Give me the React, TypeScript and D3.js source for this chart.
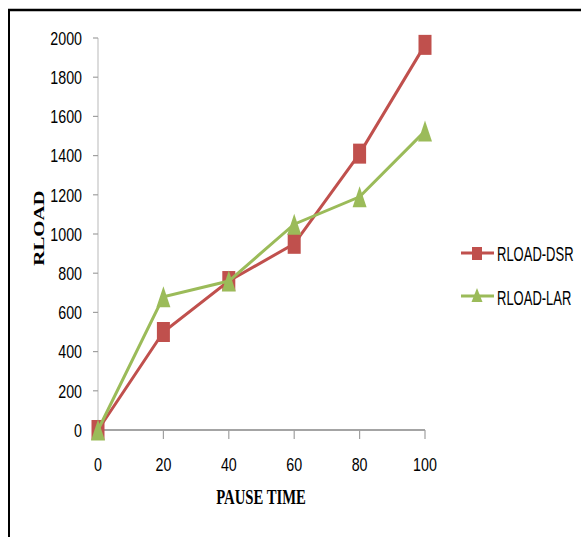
import React from "react";
import * as d3 from "d3";

const pauseTimes = [0, 20, 40, 60, 80, 100];
const rloadDSR = [0, 500, 760, 950, 1410, 1965];
const rloadLAR = [0, 680, 760, 1050, 1190, 1525];
const xTicks = [0, 20, 40, 60, 80, 100];
const yTicks = [0, 200, 400, 600, 800, 1000, 1200, 1400, 1600, 1800, 2000];
const yTickLabels = ["0", "200", "400", "600", "800", "1000", "1200", "1400", "1600", "1800", "2000"];
const seriesNames = ["RLOAD-DSR", "RLOAD-LAR"];
const xTitle = "PAUSE TIME";
const yTitle = "RLOAD";

const RED = "#c0504d";
const GREEN = "#9bbb59";

export default function App() {
  const W = 581, H = 537;
  const x = d3.scaleLinear().domain([0, 100]).range([98, 425]);
  const y = d3.scaleLinear().domain([0, 2000]).range([430, 38]);
  const line = d3.line<number>().x((_, i) => x(pauseTimes[i])).y((d) => y(d));
  const sans = "'Liberation Sans', Arial, sans-serif";
  const serif = "'Liberation Serif', 'Times New Roman', serif";
  const tri = (w: number, h: number) => `M0,${-h / 2}L${w / 2},${h / 2}L${-w / 2},${h / 2}Z`;

  return (
    <svg width={W} height={H} style={{ position: "absolute", left: 0, top: 0, background: "#fff" }}>
      <rect x={0} y={0} width={W} height={H} fill="#fff" />
      {/* frame */}
      <line x1={8} x2={W} y1={10} y2={10} stroke="#000" strokeWidth={2.5} />
      <line x1={9} x2={9} y1={9} y2={H} stroke="#000" strokeWidth={2} />

      {/* y axis */}
      <line x1={98} x2={98} y1={y(2000)} y2={y(0)} stroke="#d0d0d0" strokeWidth={1.5} />
      {yTicks.map((t, i) => (
        <g key={"y" + t}>
          <line x1={93} x2={98} y1={y(t)} y2={y(t)} stroke="#a0a0a0" strokeWidth={1.2} />
          <text
            transform={`translate(82,${y(t) + 6.8}) scale(0.75,1)`}
            textAnchor="end"
            fontFamily={sans}
            fontSize={19}
            fill="#000"
          >
            {yTickLabels[i]}
          </text>
        </g>
      ))}

      {/* x axis */}
      <line x1={x(0)} x2={x(100)} y1={y(0)} y2={y(0)} stroke="#868686" strokeWidth={1.5} />
      {xTicks.map((t) => (
        <g key={"x" + t}>
          <line x1={x(t)} x2={x(t)} y1={y(0)} y2={y(0) + 9} stroke="#a0a0a0" strokeWidth={1.2} />
          <text
            transform={`translate(${x(t)},471) scale(0.75,1)`}
            textAnchor="middle"
            fontFamily={sans}
            fontSize={19}
            fill="#000"
          >
            {t}
          </text>
        </g>
      ))}

      {/* titles */}
      <text
        transform="translate(261,504) scale(0.7,1)"
        textAnchor="middle"
        fontFamily={serif}
        fontWeight="bold"
        fontSize={21}
        fill="#000"
      >
        {xTitle}
      </text>
      <text
        transform="translate(44,228) rotate(-90) scale(1.39,1)"
        textAnchor="middle"
        fontFamily={serif}
        fontWeight="bold"
        fontSize={15}
        fill="#000"
      >
        {yTitle}
      </text>

      {/* DSR series */}
      <path d={line(rloadDSR) || ""} fill="none" stroke={RED} strokeWidth={3} />
      {rloadDSR.map((v, i) => (
        <rect key={"d" + i} x={x(pauseTimes[i]) - 6.5} y={y(v) - 10} width={13} height={20} fill={RED} />
      ))}

      {/* LAR series */}
      <path d={line(rloadLAR) || ""} fill="none" stroke={GREEN} strokeWidth={3} />
      {rloadLAR.map((v, i) => (
        <path key={"l" + i} d={tri(14, 21)} transform={`translate(${x(pauseTimes[i])},${y(v)})`} fill={GREEN} />
      ))}

      {/* legend */}
      <line x1={461} x2={494} y1={253} y2={253} stroke={RED} strokeWidth={3} />
      <rect x={472} y={247} width={10} height={13} fill={RED} />
      <text transform="translate(497,261) scale(0.65,1)" fontFamily={sans} fontSize={20} fill="#000">
        {seriesNames[0]}
      </text>

      <line x1={461} x2={494} y1={296} y2={296} stroke={GREEN} strokeWidth={3} />
      <path d={tri(11, 14)} transform="translate(477,295)" fill={GREEN} />
      <text transform="translate(497,305) scale(0.65,1)" fontFamily={sans} fontSize={20} fill="#000">
        {seriesNames[1]}
      </text>
    </svg>
  );
}
